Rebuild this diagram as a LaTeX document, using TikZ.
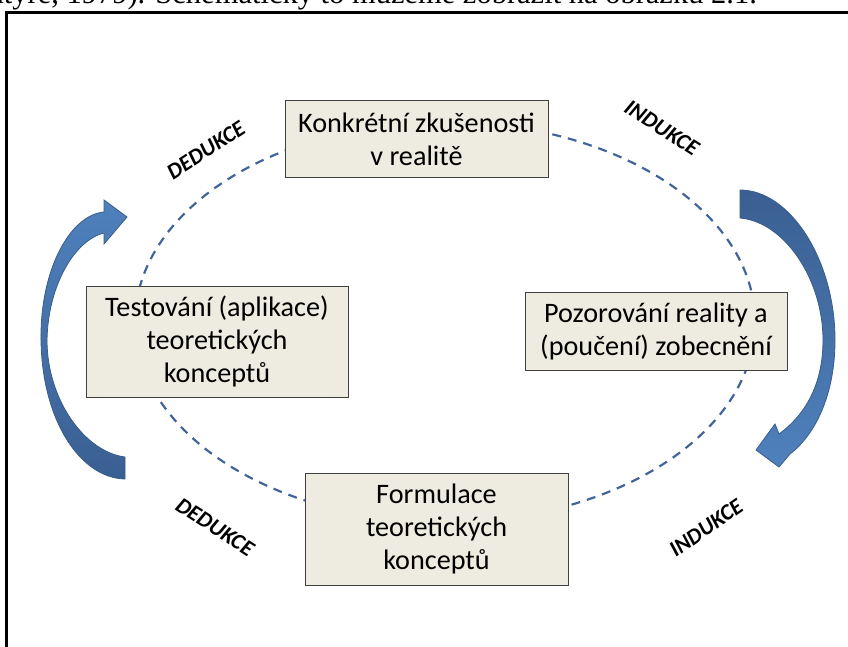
\documentclass[tikz,border=0pt]{standalone}
\usepackage{fontspec}
\setmainfont{Carlito}
\newfontfamily\serifcut{Liberation Serif}
\newfontfamily\labelfont{Carlito}[UprightFont={* Bold Italic}]
\definecolor{boxfill}{HTML}{EEECE1}
\definecolor{boxline}{HTML}{404040}
\definecolor{dashcol}{HTML}{41659A}
\definecolor{arrlight}{HTML}{4F81BD}
\definecolor{arrdark}{HTML}{3A5F92}
\definecolor{arrline}{HTML}{385D8A}
\begin{document}
\begin{tikzpicture}[x=1pt,y=-1pt,
  stagebox/.style={draw=boxline,line width=1pt,fill=boxfill,align=center,
    font=\fontsize{28.2}{33}\selectfont,inner sep=0pt},
  arrlabel/.style={font=\labelfont\fontsize{22.5}{26}\selectfont,inner sep=0pt},
  bluearrow/.style={draw=arrline,line width=0.8pt}]
\useasboundingbox (0,0) rectangle (848,647);
\clip (0,0) rectangle (848,647);
% cut-off text line at the top
\node[anchor=base east,inner sep=0pt,font=\serifcut\fontsize{30.5}{34}\selectfont] (cut) at (757,4)
  {ntyre, 1979). Schematicky to můžeme zobrazit na obrázku 2.1.};
% frame
\draw[line width=3pt] (6.5,647) -- (6.5,12.5) -- (848,12.5);
% dashed cycle
\draw[dashcol,line width=2.2pt,dash pattern=on 9pt off 7pt] (445,322) ellipse [x radius=310pt,y radius=200pt];
% boxes
\node[stagebox,minimum width=263pt,minimum height=77pt] (top) at (416.5,139.5)
  {Konkrétní zkušenosti\\v realitě};
\node[stagebox,minimum width=262pt,minimum height=111pt] (left) at (217,341.5)
  {Testování (aplikace)\\teoretických\\konceptů};
\node[stagebox,minimum width=262pt,minimum height=78pt] (right) at (656,331)
  {Pozorování reality a\\(poučení) zobecnění};
\node[stagebox,minimum width=263pt,minimum height=112pt] (bottom) at (436.5,529)
  {Formulace\\teoretických\\konceptů};
% labels
\node[arrlabel,rotate=33] (ded1) at (206,150) {DEDUKCE};
\node[arrlabel,rotate=-33] (ind1) at (662,128) {INDUKCE};
\node[arrlabel,rotate=-33] (ded2) at (215,527) {DEDUKCE};
\node[arrlabel,rotate=35] (ind2) at (706,528) {INDUKCE};
% left curved arrow
\path[bluearrow,top color=arrlight,bottom color=arrdark]
  (125,457) -- (125,479)
  .. controls (80,478) and (42,420) .. (41,340)
  .. controls (40,270) and (70,215) .. (104,212)
  -- (104,200) -- (127,217) -- (104,244) -- (104,233)
  .. controls (75,240) and (48,285) .. (47,340)
  .. controls (47,400) and (85,452) .. (125,457) -- cycle;
% right curved arrow
\path[bluearrow,top color=arrdark,bottom color=arrlight]
  (740,218) -- (740,190)
  .. controls (790,190) and (835,260) .. (835,340)
  .. controls (835,395) and (815,435) .. (790,454)
  -- (779,467) -- (756,450) -- (775,424) -- (779,434)
  .. controls (805,415) and (823,385) .. (823,340)
  .. controls (823,280) and (785,222) .. (740,218) -- cycle;
\end{tikzpicture}
\end{document}
